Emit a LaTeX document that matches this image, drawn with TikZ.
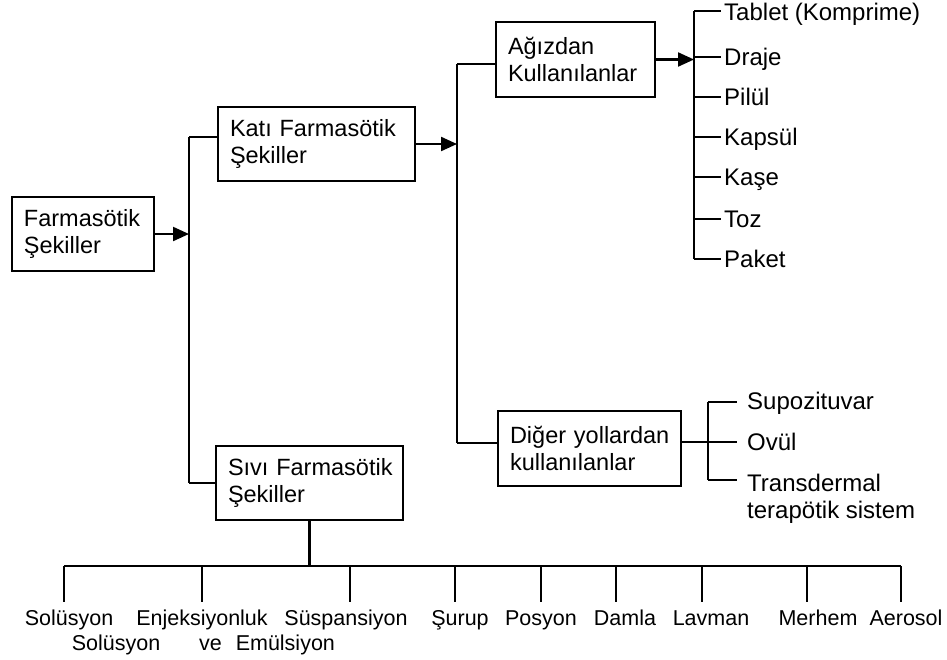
\documentclass[tikz,border=0pt]{standalone}
\usepackage{fontspec}
\setmainfont{Liberation Sans}
\usetikzlibrary{arrows.meta}
\begin{document}
\begin{tikzpicture}[x=1pt,y=-1pt,
 ln/.style={line width=2.2pt},
 arr/.style={ln,-{Triangle[length=16pt,width=14pt]}},
 bx/.style={draw,line width=2.2pt,align=left,inner xsep=4pt,inner ysep=0pt,font=\fontsize{23.5}{27.5}\selectfont},
 item/.style={inner xsep=3pt,inner ysep=0pt,anchor=west,font=\fontsize{24}{27.5}\selectfont,text height=17pt,text depth=0pt},
 itemb/.style={inner xsep=10pt,inner ysep=0pt,anchor=west,font=\fontsize{24}{27.5}\selectfont,text height=17pt,text depth=0pt},
 bot/.style={inner xsep=0pt,inner ysep=8pt,anchor=base,font=\fontsize{21.5}{25}\selectfont,text height=15pt,text depth=0pt},
 botl/.style={inner sep=0pt,anchor=base,font=\fontsize{21.5}{25}\selectfont}]
\useasboundingbox (0,0) rectangle (947,659);
\newcommand{\ind}{\hspace*{8pt}}
% boxes
\node[bx,minimum width=142pt,minimum height=74pt,text width=134pt] (F) at (83,234) {\ind Farmasötik\\\ind Şekiller};
\node[bx,minimum width=197pt,minimum height=74pt,text width=189pt] (K) at (316.5,144) {\ind Katı Farmasötik\\\ind Şekiller};
\node[bx,minimum width=187pt,minimum height=74pt,text width=179pt] (S) at (309.5,483) {\ind Sıvı Farmasötik\\\ind Şekiller};
\node[bx,minimum width=159pt,minimum height=75pt,text width=151pt] (A) at (575.5,59.5) {\ind Ağızdan\\\ind Kullanılanlar};
\node[bx,minimum width=183pt,minimum height=75pt,text width=175pt] (D) at (589.5,448.5) {\ind Diğer yollardan\\\ind kullanılanlar};
% level 1 junction
\coordinate (j1t) at (189,137);
\coordinate (j1b) at (189,483);
\draw[arr] (F.east) -- (F.east -| j1t);
\draw[ln] (j1t) -- (j1b);
\draw[ln] (j1t) -- (j1t -| K.west);
\draw[ln] (j1b) -- (j1b -| S.west);
% level 2 junction
\coordinate (j2t) at (457,64);
\coordinate (j2b) at (457,443);
\draw[arr] (K.east) -- (K.east -| j2t);
\draw[ln] (j2t) -- (j2b);
\draw[ln] (j2t) -- (j2t -| A.west);
\draw[ln] (j2b) -- (j2b -| D.west);
% oral items
\coordinate (j3t) at (694,11);
\coordinate (j3b) at (694,259);
\draw[arr] (A.east) -- (A.east -| j3t);
\draw[ln] (j3t) -- (j3b);
\node[item] (i1) at (721,12) {Tablet (Komprime)};
\node[item] (i2) at (721,57) {Draje};
\node[item] (i3) at (721,97) {Pilül};
\node[item] (i4) at (721,137) {Kapsül};
\node[item] (i5) at (721,177) {Kaşe};
\node[item] (i6) at (721,219) {Toz};
\node[item] (i7) at (721,259) {Paket};
\foreach \i in {i2,i3,i4,i5,i6,i7} \draw[ln] (\i.west -| j3t) -- (\i.west);
\draw[ln] (j3t) -- (j3t -| i1.west);
% other routes
\coordinate (j4t) at (708,402);
\coordinate (j4m) at (708,442);
\coordinate (j4b) at (708,480);
\node[itemb] (o1) at (737,401) {Supozituvar};
\node[itemb] (o2) at (737,442) {Ovül};
\node[inner xsep=10pt,inner ysep=0pt,anchor=north west,align=left,font=\fontsize{24}{27}\selectfont] (o3) at (737,474) {Transdermal\\terapötik sistem};
\draw[ln] (D.east |- j4m) -- (j4m);
\draw[ln] (j4t) -- (j4b);
\draw[ln] (j4t) -- (j4t -| o1.west);
\draw[ln] (j4m) -- (o2.west);
\draw[ln] (j4b) -- (j4b -| o3.west);
% liquid forms
\coordinate (bl) at (64,566);
\coordinate (br) at (901,566);
\draw[ln] (S.south) -- (S.south |- bl);
\draw[ln] (bl) -- (br);
\node[bot] (l1) at (69,625) {Solüsyon};
\node[bot] (l2) at (202,625) {Enjeksiyonluk};
\node[bot] (l3) at (346,625) {Süspansiyon};
\node[bot] (l4) at (460,625) {Şurup};
\node[bot] (l5) at (541,625) {Posyon};
\node[bot] (l6) at (625,625) {Damla};
\node[bot] (l7) at (711,625) {Lavman};
\node[bot] (l8) at (818,625) {Merhem};
\node[bot] (l9) at (906,625) {Aerosol};
\node[botl] (l2b) at (116,650) {Solüsyon};
\node[botl] (l3b) at (267,650) {ve\hspace{14pt}Emülsiyon};
\foreach \n/\x in {l1/64,l2/202,l3/350,l4/455,l5/541,l6/616,l7/702,l8/807,l9/901}{
  \coordinate (b\n) at (\x,566);
  \draw[ln] (b\n) -- (b\n |- \n.north);
}
\end{tikzpicture}
\end{document}
